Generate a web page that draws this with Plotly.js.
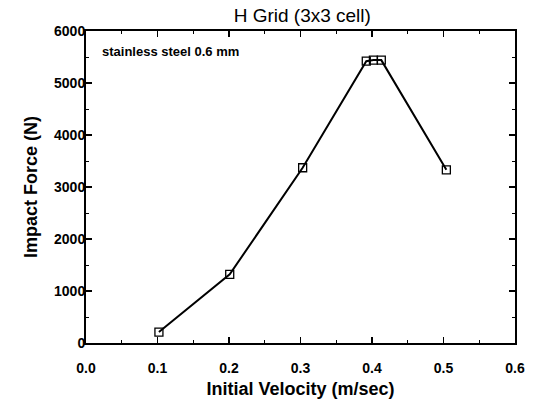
<!DOCTYPE html>
<html>
<head>
<meta charset="utf-8">
<script src="https://cdn.plot.ly/plotly-3.0.1.min.js"></script>
<style>html,body{margin:0;padding:0;background:#fff;}#chart{width:535px;height:403px;}</style>
</head>
<body>
<div id="chart"></div>
<script>
const velocity = [0.102, 0.201, 0.303, 0.392, 0.402, 0.413, 0.504];
const impactForce = [210, 1320, 3370, 5420, 5440, 5440, 3330];
const xTickVals = [0, 0.1, 0.2, 0.3, 0.4, 0.5, 0.6];
const xTickText = ["0.0", "0.1", "0.2", "0.3", "0.4", "0.5", "0.6"];
const yTickVals = [0, 1000, 2000, 3000, 4000, 5000, 6000];
const chartTitle = "H Grid (3x3 cell)";
const annotationText = "stainless steel 0.6 mm";

const font = "Liberation Sans, Arial, sans-serif";
const trace = {
  x: velocity, y: impactForce, type: "scatter", mode: "lines+markers",
  line: {color: "#000", width: 2},
  marker: {symbol: "square-open", size: 8, color: "#000", line: {width: 1.3, color: "#000"}},
  showlegend: false
};
const axisCommon = {
  showline: true, linecolor: "#000", linewidth: 2, mirror: "ticks",
  ticks: "inside", ticklen: 6, tickwidth: 1.5, tickcolor: "#000",
  showgrid: false, zeroline: false,
  tickfont: {family: font, size: 14, color: "#000", weight: "bold"}
};
const layout = {
  width: 535, height: 403,
  margin: {l: 86, r: 20, t: 31, b: 60},
  paper_bgcolor: "#fff", plot_bgcolor: "#fff",
  title: {text: chartTitle, font: {family: font, size: 19, color: "#000"}, x: 0.565, xanchor: "center", y: 0.962, yanchor: "middle"},
  xaxis: Object.assign({}, axisCommon, {
    range: [0, 0.6], tickvals: xTickVals, ticktext: xTickText,
    ticklabelstandoff: 11,
    minor: {ticks: "inside", dtick: 0.05, ticklen: 3, tickcolor: "#000", tickwidth: 1},
    title: {text: "Initial Velocity (m/sec)", font: {family: font, size: 18, color: "#000", weight: "bold"}, standoff: 8}
  }),
  yaxis: Object.assign({}, axisCommon, {
    range: [0, 6000], tickvals: yTickVals,
    ticklabelstandoff: -4,
    minor: {ticks: "inside", dtick: 500, ticklen: 3, tickcolor: "#000", tickwidth: 1},
    title: {text: "Impact Force (N)", font: {family: font, size: 18, color: "#000", weight: "bold"}, standoff: 12}
  }),
  annotations: [{
    text: annotationText, xref: "paper", yref: "paper", x: 0.033, y: 0.935,
    xanchor: "left", yanchor: "middle", showarrow: false,
    font: {family: font, size: 13, color: "#000", weight: "bold"}
  }]
};
Plotly.newPlot("chart", [trace], layout, {displayModeBar: false, staticPlot: true});
</script>
</body>
</html>
